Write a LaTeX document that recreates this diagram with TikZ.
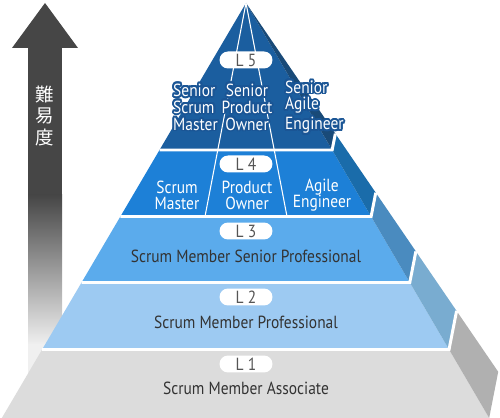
\documentclass[tikz,border=0pt]{standalone}
\usepackage{fontspec}
\usepackage{contour}
\setmainfont{PT Sans}[FakeStretch=0.88]
\newfontfamily\jpfont{Noto Sans CJK JP}

\definecolor{arrowdark}{HTML}{464646}
\definecolor{arrowlight}{HTML}{F0F0F0}
\definecolor{fivefront}{HTML}{1B5E9F}
\definecolor{fiveside}{HTML}{194A78}
\definecolor{fivehalo}{HTML}{1A5595}
\definecolor{fourfront}{HTML}{1D80D7}
\definecolor{fourside}{HTML}{1A6CAA}
\definecolor{threefront}{HTML}{5BABEC}
\definecolor{threeside}{HTML}{4A8BBF}
\definecolor{twofront}{HTML}{9DCAF2}
\definecolor{twoside}{HTML}{79ACD0}
\definecolor{onefront}{HTML}{DCDCDC}
\definecolor{oneside}{HTML}{B0B0B0}
\definecolor{lvdark}{HTML}{333333}
\definecolor{pilltext}{HTML}{555555}

\contourlength{1.1pt}
\newcommand{\halo}[1]{\contour{fivehalo}{#1}}

\tikzset{
	tiergap/.style={white,line width=1.7pt},
	colline/.style={white,line width=0.6pt},
	pill/.style={fill=white,rounded corners=0.17cm,minimum width=1.06cm,minimum height=0.34cm,inner sep=0pt,text=pilltext,font=\fontsize{10}{10}\selectfont},
	lvtext/.style={text=lvdark,font=\fontsize{10}{10}\selectfont},
	roletext/.style={text=white,font=\fontsize{10}{9.2}\selectfont},
	seniortext/.style={text=white,font=\fontsize{10}{9.6}\selectfont}
}

\begin{document}
\begin{tikzpicture}[x=0.02cm,y=-0.02cm]
	\useasboundingbox (0,0) rectangle (500,418);
	% difficulty arrow
	\fill[arrowdark] (12,48) -- (45,3) -- (78,48) -- cycle;
	\fill[arrowdark] (28,47) rectangle (62,196);
	\shade[top color=arrowdark,bottom color=arrowlight] (28,195) rectangle (62,345);
	\fill[arrowlight] (28,344) rectangle (62,418);
	\node[text=white,font=\jpfont\fontsize{10.5}{12}\selectfont,align=center] (diff) at (45,116) {難\\易\\度};
	% pyramid corners: left, right, back
	\foreach \k/\y in {0/3,1/150,2/216.5,3/282.5,4/349.5,5/418} {
		\pgfmathsetmacro\t{(\y-3)/413}
		\coordinate (l\k) at ({246-243*\t},\y);
		\coordinate (r\k) at ({246+242*\t},\y);
		\coordinate (b\k) at ({246+251*\t},{3+367*\t});
	}
	\foreach \j/\k/\fc/\sc in {0/1/fivefront/fiveside,1/2/fourfront/fourside,2/3/threefront/threeside,3/4/twofront/twoside,4/5/onefront/oneside} {
		\fill[\fc] (l\j) -- (r\j) -- (r\k) -- (l\k) -- cycle;
		\fill[\sc] (r\j) -- (b\j) -- (b\k) -- (r\k) -- cycle;
	}
	% column lines of L5 and L4
	\coordinate (cl) at (205,216.5);
	\coordinate (cr) at (287,216.5);
	\draw[colline] (l0) -- (cl);
	\draw[colline] (l0) -- (cr);
	\foreach \k in {1,...,4}
	\draw[tiergap] (l\k) -- (r\k) -- (b\k);
	% level badges
	\node[pill] (pfive) at (246,60) {L 5};
	\node[pill] (pfour) at (246,164) {L 4};
	\node[pill] (pthree) at (246,231) {L 3};
	\node[pill] (ptwo) at (246,297) {L 2};
	\node[pill] (pone) at (246,364) {L 1};
	\node[lvtext] (tthree) at (246,256) {Scrum Member Senior Professional};
	\node[lvtext] (ttwo) at (246,322) {Scrum Member Professional};
	\node[lvtext] (tone) at (246,388) {Scrum Member Associate};
	% roles
	\node[roletext,align=center] (sm) at (177,195) {Scrum\\Master};
	\node[roletext,align=center] (po) at (247,195) {Product\\Owner};
	\node[roletext,align=center] (ae) at (322,195) {Agile\\Engineer};
	\node[seniortext,align=left,anchor=west] (ssm) at (167,108) {\halo{Senior}\\\halo{Scrum}\\\halo{Master}};
	\node[seniortext,align=center] (spo) at (247,108) {\halo{Senior}\\\halo{Product}\\\halo{Owner}};
	\node[seniortext,align=left,anchor=west] (sae) at (279,108) {\halo{Senior}\\\halo{Agile}\\\halo{Engineer}};
\end{tikzpicture}
\end{document}
